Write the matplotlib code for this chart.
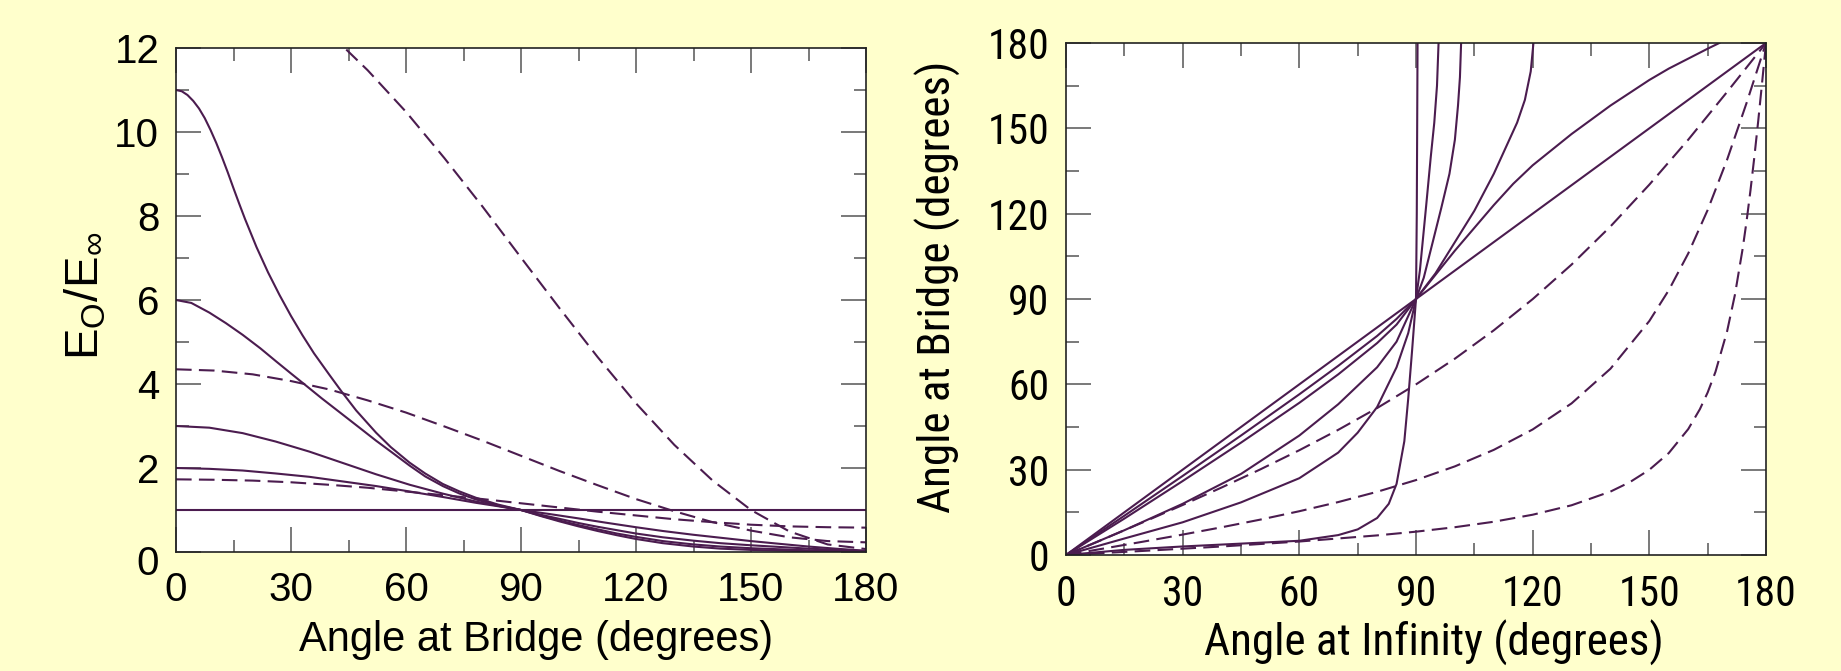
import matplotlib
matplotlib.use("Agg")
import matplotlib.pyplot as plt
from matplotlib.ticker import MultipleLocator
from matplotlib import font_manager
from matplotlib.font_manager import FontProperties
import matplotlib.transforms as mtransforms

# ---------------- data: left panel (E0/Einf vs angle at bridge) ----------------
flat_x = [0, 180]
flat_y = [1.0, 1.0]

s2_x = [0, 8.7, 17.4, 26, 34.8, 43.5, 52.2, 61, 69.6, 78.3, 84, 90, 97, 105, 112, 120, 127, 135, 142, 150, 158, 165, 172, 180]
s2_y = [2.0, 1.98, 1.94, 1.87, 1.79, 1.68, 1.57, 1.44, 1.31, 1.17, 1.09, 1.0, 0.91, 0.80, 0.70, 0.59, 0.50, 0.41, 0.34, 0.26, 0.19, 0.13, 0.08, 0.03]

s3_x = [0, 8.7, 17.4, 26, 34.8, 43.5, 52.2, 61, 69.6, 78.3, 84, 90, 95, 100, 105, 110, 115, 120, 127, 135, 142, 150, 165, 180]
s3_y = [3.0, 2.96, 2.83, 2.63, 2.39, 2.12, 1.85, 1.60, 1.39, 1.20, 1.10, 1.0, 0.89, 0.79, 0.69, 0.60, 0.52, 0.44, 0.35, 0.27, 0.21, 0.16, 0.08, 0.02]

s6_x = [0, 4, 8.7, 13, 17.4, 22, 26.1, 30, 33, 38, 43.5, 48, 52.2, 56.5, 60.9, 65, 69.6, 74, 78.3, 84, 90,
        95, 100, 105, 110, 115, 120, 127, 135, 142, 150, 165, 180]
s6_y = [6.0, 5.93, 5.70, 5.45, 5.17, 4.85, 4.54, 4.25, 4.03, 3.66, 3.27, 2.95, 2.65, 2.36, 2.06, 1.80, 1.57, 1.39, 1.25, 1.11, 1.0,
        0.87, 0.75, 0.64, 0.54, 0.44, 0.36, 0.26, 0.18, 0.13, 0.09, 0.04, 0.01]

s11_x = [0, 1.5, 3, 4.5, 6, 7.5, 9, 10.5, 12, 13.5, 15, 16.5, 18, 21, 24, 27, 30, 33, 36, 40, 43.2, 47, 52.2, 56,
         60.9, 65, 69.6, 74, 78.3, 84, 90, 95, 100, 105, 110, 115, 120, 127, 135, 142, 150, 165, 180]
s11_y = [11.0, 10.97, 10.88, 10.74, 10.56, 10.33, 10.05, 9.74, 9.40, 9.04, 8.66, 8.29, 7.93, 7.26, 6.66, 6.12, 5.62, 5.16, 4.73, 4.22, 3.82, 3.37, 2.84, 2.50,
         2.13, 1.87, 1.62, 1.44, 1.29, 1.13, 1.0, 0.86, 0.73, 0.61, 0.50, 0.40, 0.31, 0.21, 0.13, 0.08, 0.05, 0.015, 0.0]

d_a_x = [0, 10, 20, 30, 40, 50, 60, 70, 80, 90, 100, 110, 120, 130, 140, 150, 160, 170, 180]
d_a_y = [1.73, 1.72, 1.70, 1.66, 1.60, 1.53, 1.44, 1.35, 1.26, 1.16, 1.06, 0.96, 0.87, 0.78, 0.71, 0.65, 0.61, 0.59, 0.58]

d_b_x = [0, 10, 20, 30, 40, 50, 60, 70, 80, 90, 100, 110, 120, 130, 140, 150, 160, 170, 180]
d_b_y = [4.35, 4.32, 4.23, 4.07, 3.87, 3.61, 3.32, 2.99, 2.65, 2.29, 1.93, 1.59, 1.26, 0.97, 0.71, 0.51, 0.35, 0.26, 0.23]

d_c_x = [40, 44, 50, 60, 70, 80, 90, 100, 110, 120, 130, 140, 150, 160, 170, 180]
d_c_y = [12.33, 12.0, 11.47, 10.48, 9.38, 8.22, 7.01, 5.81, 4.64, 3.54, 2.55, 1.70, 1.00, 0.49, 0.18, 0.07]

# ---------------- data: right panel (angle at bridge vs angle at infinity) ----------------
diag_x = [0, 180]
diag_y = [0, 180]

r2_x = [0, 15, 30, 45, 60, 70, 80, 85, 90, 95, 100, 105, 110, 115, 120, 125, 130, 135, 140, 145, 150, 155, 160, 165, 168]
r2_y = [0, 13.8, 27.8, 42, 56.5, 66.5, 77, 83, 90, 98.5, 107, 115, 123, 130.5, 137, 142.5, 148, 153, 158, 162.5, 167, 171, 174.5, 178, 180]

r3_x = [0, 15, 30, 45, 60, 70, 80, 85, 90, 95, 100, 105, 110, 113, 116, 118, 119.5, 120.2]
r3_y = [0, 12.8, 26, 39.5, 53.5, 63.5, 74.5, 81, 90, 99, 110, 121, 134, 143, 152, 160, 170, 180]

r4_x = [0, 15, 30, 45, 60, 70, 80, 85, 90, 92, 94.3, 96.5, 98.6, 100, 100.8, 101.3, 101.6]
r4_y = [0, 8.7, 18, 28.5, 42, 53, 66, 75, 90, 97.5, 110, 122, 134, 146, 158, 168, 180]

r5_x = [0, 15, 30, 45, 60, 70, 75, 80, 85, 88, 90, 91, 92.6, 93.8, 94.7, 95.4, 95.8]
r5_y = [0, 5.8, 11.5, 18.5, 27, 36, 43, 52, 66, 78, 90, 100, 122.6, 140, 152, 165, 180]

r6_x = [0, 15, 30, 45, 60, 70, 75, 80, 83, 85, 87, 88, 89, 90, 90.2, 90.4]
r6_y = [0, 1.8, 3, 4, 5, 7, 9, 13, 18, 25, 40, 55, 72, 90, 120, 180]

q1_x = [0, 10, 20, 30, 40, 50, 60, 70, 80, 90, 100, 110, 120, 130, 140, 150, 160, 170, 180]
q1_y = [0, 5.78, 11.62, 17.58, 23.72, 30.12, 36.84, 44.0, 51.66, 59.98, 69.02, 78.98, 89.96, 102.1, 115.5, 130.2, 146.0, 162.8, 180]

q2_x = [0, 10, 20, 30, 40, 50, 60, 70, 80, 90, 100, 110, 120, 130, 140, 150, 155, 160, 165, 170, 175, 180]
q2_y = [0, 2.35, 4.73, 7.18, 9.74, 12.45, 15.39, 18.61, 22.22, 26.34, 31.16, 36.96, 44.13, 53.3, 65.48, 82.26, 93.1, 106.0, 121.3, 139.0, 158.9, 180]

q3_x = [0, 20, 40, 60, 80, 90, 100, 110, 120, 130, 140, 145, 150, 155, 160, 163, 165, 167, 170, 172, 174, 175, 176, 177, 178, 179, 180]
q3_y = [0, 1.45, 2.99, 4.74, 6.89, 8.2, 9.77, 11.69, 14.16, 17.48, 22.29, 25.62, 29.96, 35.84, 44.26, 51.27, 57.14, 64.36, 78.66, 91.44, 107.7, 117.3, 128.1, 139.9, 152.6, 166.1, 180]

left_xticks = [0, 30, 60, 90, 120, 150, 180]
left_yticks = [0, 2, 4, 6, 8, 10, 12]
right_ticks = [0, 30, 60, 90, 120, 150, 180]

# ---------------- styling ----------------
BG = "#FFFFCC"
LC = "#4B1C4F"
SPC = "#222222"
LW = 1.5
DASH = (7.5, 3.5)
W, H = 1841, 671

names = {f.name for f in font_manager.fontManager.ttflist}

# right panel: prefer a narrow humanist face, like the original's
right_fp_kw = None
for cand in ["Liberation Sans Narrow", "Roboto Condensed", "Open Sans Condensed",
             "Noto Sans Condensed", "DejaVu Sans Condensed"]:
    if cand in names:
        right_fp_kw = dict(family=cand)
        break
if right_fp_kw is None:
    for f in font_manager.fontManager.ttflist:
        if f.name in ("Noto Sans", "Open Sans", "Roboto", "DejaVu Sans") and \
                str(f.stretch) in ("condensed", "semi-condensed", "75", "87.5") and f.weight in (400, "normal", "regular"):
            right_fp_kw = dict(family=f.name, stretch=f.stretch)
            break
if right_fp_kw is None:
    right_fp_kw = dict(family="Roboto")

LEFT_FAMILY = "Liberation Sans"

plt.rcParams["mathtext.fontset"] = "custom"
plt.rcParams["mathtext.rm"] = "Liberation Sans"
plt.rcParams["mathtext.it"] = "Liberation Sans"

fig = plt.figure(figsize=(W / 100, H / 100), dpi=100, facecolor=BG)

axL = fig.add_axes([176 / W, 1 - 552 / H, 690 / W, 504 / H])
axR = fig.add_axes([1066 / W, 1 - 555 / H, 700 / W, 512 / H])


def style(ax, fp):
    ax.set_facecolor("white")
    for sp in ax.spines.values():
        sp.set_color(SPC)
        sp.set_linewidth(1.2)
    ax.tick_params(which="both", direction="in", top=True, right=True,
                   color="#555555", width=1.1)
    ax.tick_params(which="major", length=18, pad=14)
    ax.tick_params(which="minor", length=9)
    for lab in ax.get_xticklabels() + ax.get_yticklabels():
        lab.set_fontproperties(fp)
        lab.set_color("black")


# left panel
axL.plot(flat_x, flat_y, color=LC, lw=LW)
for xs, ys in [(s2_x, s2_y), (s3_x, s3_y), (s6_x, s6_y), (s11_x, s11_y)]:
    axL.plot(xs, ys, color=LC, lw=LW)
for xs, ys in [(d_a_x, d_a_y), (d_b_x, d_b_y), (d_c_x, d_c_y)]:
    axL.plot(xs, ys, color=LC, lw=LW, dashes=DASH)
axL.set_xlim(0, 180)
axL.set_ylim(0, 12)
axL.set_xticks(left_xticks)
axL.set_yticks(left_yticks)
axL.xaxis.set_minor_locator(MultipleLocator(15))
axL.yaxis.set_minor_locator(MultipleLocator(1))
style(axL, FontProperties(family=LEFT_FAMILY, size=29))
axL.tick_params(axis="y", pad=12)
# the "0" on the y axis sits a little low in the original
ylabs = axL.get_yticklabels()
ylabs[0].set_transform(ylabs[0].get_transform() +
                       mtransforms.ScaledTranslation(0, -8 / 100, fig.dpi_scale_trans))

fig.text(536 / W, 1 - 640 / H, "Angle at Bridge (degrees)", family=LEFT_FAMILY, fontsize=30,
         ha="center", va="center")
fig.text(86 / W, 1 - 296 / H, r"E$_{\mathregular{O}}$/E$_{\mathregular{\infty}}$", family=LEFT_FAMILY,
         fontsize=34, rotation=90, ha="center", va="center")

# right panel
axR.plot(diag_x, diag_y, color=LC, lw=LW)
for xs, ys in [(r2_x, r2_y), (r3_x, r3_y), (r4_x, r4_y), (r5_x, r5_y), (r6_x, r6_y)]:
    axR.plot(xs, ys, color=LC, lw=LW)
for xs, ys in [(q1_x, q1_y), (q2_x, q2_y), (q3_x, q3_y)]:
    axR.plot(xs, ys, color=LC, lw=LW, dashes=DASH)
axR.set_xlim(0, 180)
axR.set_ylim(0, 180)
axR.set_xticks(right_ticks)
axR.set_yticks(right_ticks)
axR.xaxis.set_minor_locator(MultipleLocator(15))
axR.yaxis.set_minor_locator(MultipleLocator(15))
style(axR, FontProperties(size=30, **right_fp_kw))
axR.tick_params(axis="y", pad=12)

fig.text(1434 / W, 1 - 643 / H, "Angle at Infinity (degrees)",
         fontproperties=FontProperties(size=32.5, **right_fp_kw), ha="center", va="center")
fig.text(938 / W, 1 - 287 / H, "Angle at Bridge (degrees)",
         fontproperties=FontProperties(size=32.5, **right_fp_kw), rotation=90, ha="center", va="center")

fig.savefig("out.png", dpi=100, facecolor=BG)
